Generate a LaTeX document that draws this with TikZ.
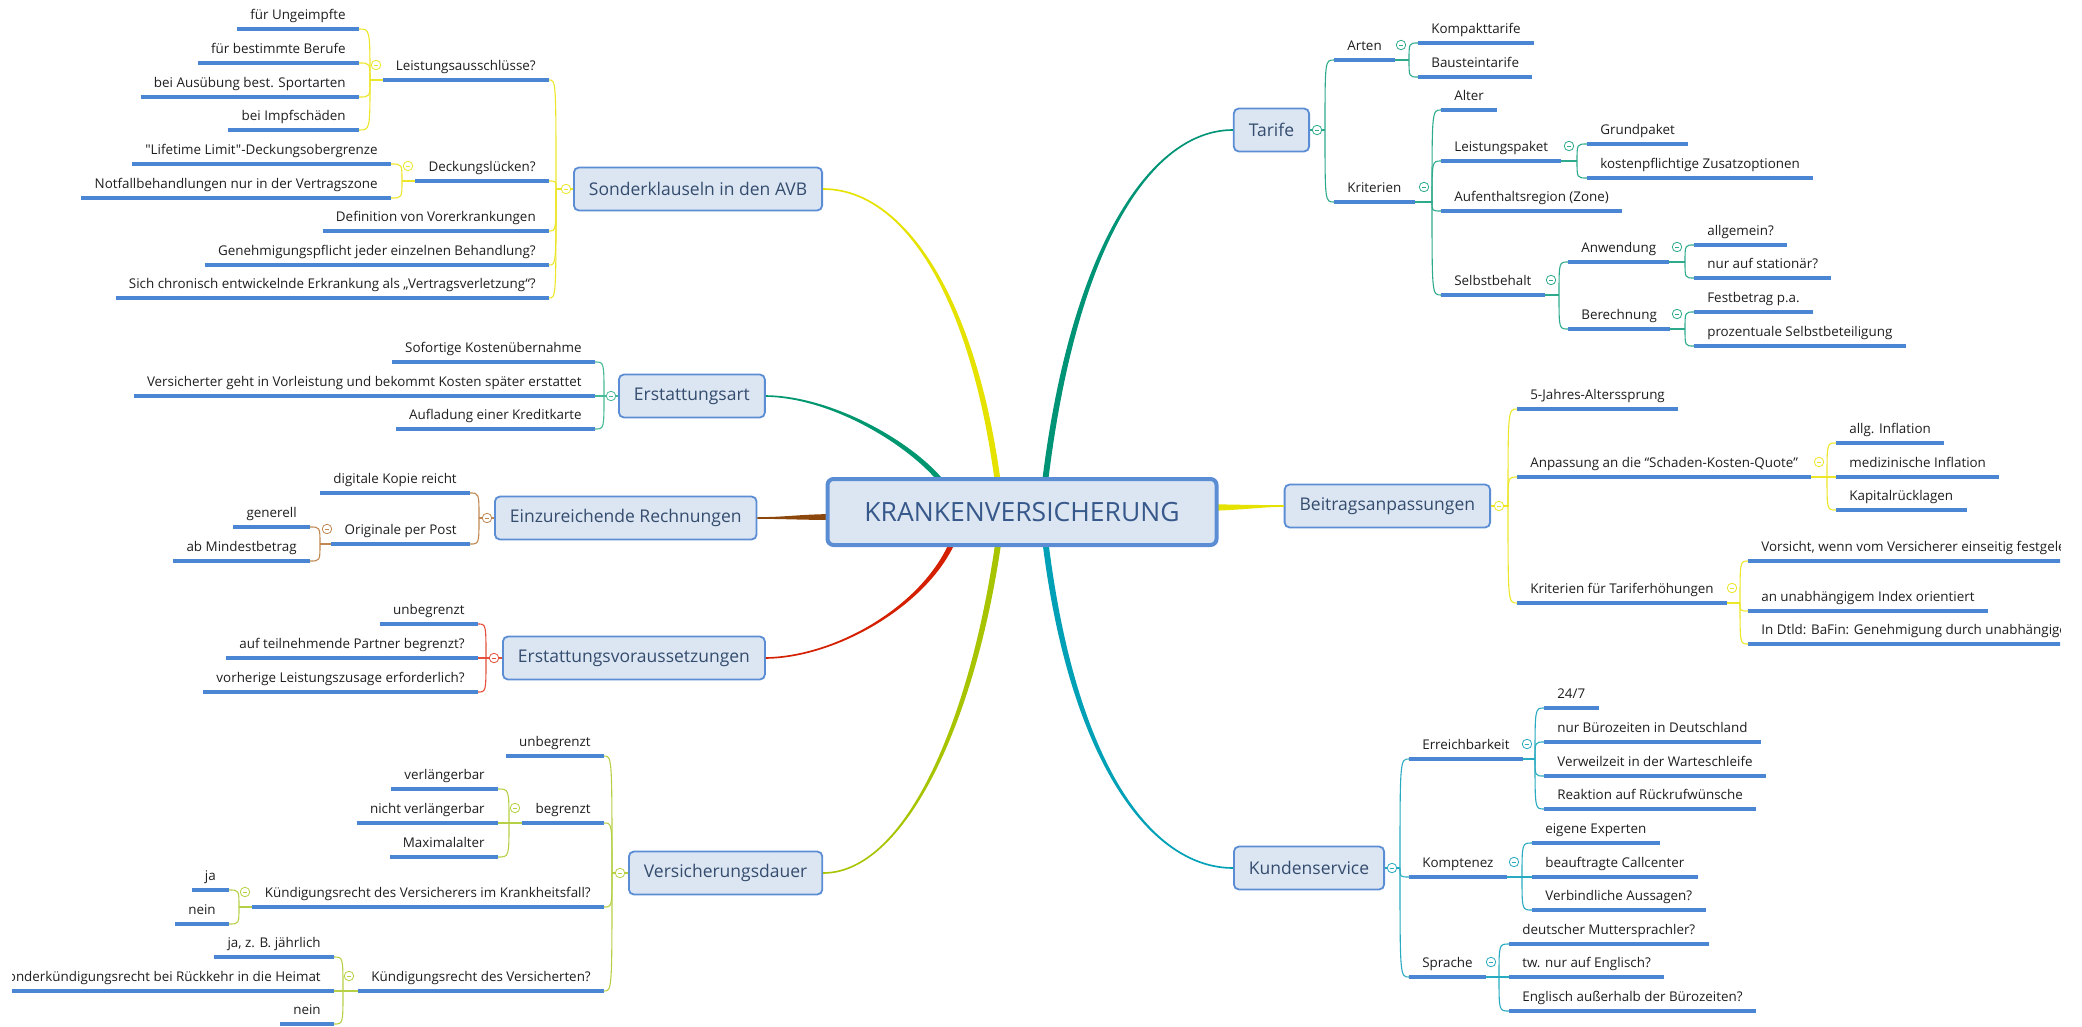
\documentclass[tikz,border=0pt]{standalone}
\usepackage{fontspec}
\setmainfont{Open Sans}[Ligatures=TeXOff]
\usetikzlibrary{positioning}
\usetikzlibrary{calc}

\definecolor{boxfill}{RGB}{220,230,242}
\definecolor{boxline}{RGB}{91,141,212}
\definecolor{boxtext}{RGB}{52,76,110}
\definecolor{roottext}{RGB}{55,88,138}
\definecolor{ulblue}{RGB}{74,134,212}
\definecolor{leaftext}{RGB}{30,30,30}
\definecolor{cyel}{RGB}{230,226,0}
\definecolor{cyelthin}{RGB}{236,230,40}
\definecolor{cgreen}{RGB}{0,150,112}
\definecolor{cgreenthin}{RGB}{70,186,150}
\definecolor{cbrown}{RGB}{140,72,12}
\definecolor{cbrownthin}{RGB}{192,135,80}
\definecolor{cred}{RGB}{212,32,0}
\definecolor{credthin}{RGB}{228,80,60}
\definecolor{colive}{RGB}{168,196,0}
\definecolor{colivethin}{RGB}{182,208,70}
\definecolor{cteal}{RGB}{0,148,118}
\definecolor{ctealthin}{RGB}{45,170,140}
\definecolor{ccyan}{RGB}{0,160,182}
\definecolor{ccyanthin}{RGB}{40,170,192}

\begin{document}
\begin{tikzpicture}[x=1pt,y=-1pt,semithick,
    fork/.style={to path={.. controls (\tikztostart |- \tikztotarget) .. (\tikztotarget)}},
    mk/.style={circle,draw=#1,fill=white,line width=0.8pt,minimum size=9.5pt,inner sep=0pt,
      path picture={\draw[#1,line width=0.8pt] ([xshift=-2.3pt]path picture bounding box.center) -- ([xshift=2.3pt]path picture bounding box.center);}}]
    \tikzstyle{root}=[draw=boxline,line width=4pt,fill=boxfill,rounded corners=6pt,minimum width=389pt,minimum height=66pt,text=roottext,font=\fontsize{26.5}{30}\selectfont]
    \tikzstyle{topic}=[draw=boxline,line width=1.8pt,fill=boxfill,rounded corners=5pt,minimum height=43pt,inner xsep=15pt,text=boxtext,font=\fontsize{17.5}{21}\selectfont]
    \tikzstyle{leaf}=[font=\fontsize{13.4}{16}\selectfont,text=leaftext,inner xsep=13pt,inner ysep=5pt,text height=10pt,text depth=4pt,
      append after command={(\tikzlastnode.south west) edge[draw=ulblue,line width=3.4pt] (\tikzlastnode.south east)}]
    \tikzstyle{leafL}=[leaf,anchor=south east]
    \tikzstyle{leafR}=[leaf,anchor=south west]
    \tikzstyle{lyel}=[draw=cyelthin,line width=1.1pt,fork]
    \tikzstyle{lgreen}=[draw=cgreenthin,line width=1.1pt,fork]
    \tikzstyle{lbrown}=[draw=cbrownthin,line width=1.1pt,fork]
    \tikzstyle{lred}=[draw=credthin,line width=1.1pt,fork]
    \tikzstyle{lolive}=[draw=colivethin,line width=1.1pt,fork]
    \tikzstyle{lteal}=[draw=ctealthin,line width=1.1pt,fork]
    \tikzstyle{lcyan}=[draw=ccyanthin,line width=1.1pt,fork]

    \useasboundingbox (0,0) rectangle (2082,1027);
    \begin{scope}
    \clip (12,0) rectangle (2060,1027);

    % left side
    \node[topic,anchor=west] (SK) at (573,189) {Sonderklauseln in den AVB};
    \coordinate (sk) at (556,189);
    \node[leafL] (ls) at (549,80) {Leistungsausschlüsse?};
    \node[leafL] (dl) at (549,181) {Deckungslücken?};
    \node[leafL] (dv) at (549,231) {Definition von Vorerkrankungen};
    \node[leafL] (gp) at (549,265) {Genehmigungspflicht jeder einzelnen Behandlung?};
    \node[leafL] (ce) at (549,298) {Sich chronisch entwickelnde Erkrankung als „Vertragsverletzung“?};
    \coordinate (lss) at (370,80);
    \node[leafL] (ls1) at (359,29) {für Ungeimpfte};
    \node[leafL] (ls2) at (359,63) {für bestimmte Berufe};
    \node[leafL] (ls3) at (359,97) {bei Ausübung best. Sportarten};
    \node[leafL] (ls4) at (359,130) {bei Impfschäden};
    \coordinate (dls) at (402,181);
    \node[leafL] (dl1) at (391,164) {"Lifetime Limit"-Deckungsobergrenze};
    \node[leafL] (dl2) at (391,198) {Notfallbehandlungen nur in der Vertragszone};

    \node[topic,anchor=west] (EA) at (618,396) {Erstattungsart};
    \coordinate (ea) at (604,396);
    \node[leafL] (ea1) at (595,362) {Sofortige Kostenübernahme};
    \node[leafL] (ea2) at (595,396) {Versicherter geht in Vorleistung und bekommt Kosten später erstattet};
    \node[leafL] (ea3) at (595,429) {Aufladung einer Kreditkarte};

    \node[topic,anchor=west] (ER) at (494,518) {Einzureichende Rechnungen};
    \coordinate (er) at (479,518);
    \node[leafL] (er1) at (470,493) {digitale Kopie reicht};
    \node[leafL] (er2) at (470,544) {Originale per Post};
    \coordinate (ers) at (320,544);
    \node[leafL] (er21) at (310,527) {generell};
    \node[leafL] (er22) at (310,561) {ab Mindestbetrag};

    \node[topic,anchor=west] (EV) at (502,658) {Erstattungsvoraussetzungen};
    \coordinate (ev) at (486,658);
    \node[leafL] (ev1) at (478,624) {unbegrenzt};
    \node[leafL] (ev2) at (478,658) {auf teilnehmende Partner begrenzt?};
    \node[leafL] (ev3) at (478,692) {vorherige Leistungszusage erforderlich?};

    \node[topic,anchor=west] (VD) at (628,873) {Versicherungsdauer};
    \coordinate (vd) at (612,873);
    \node[leafL] (vd1) at (604,756) {unbegrenzt};
    \node[leafL] (vd2) at (604,823) {begrenzt};
    \node[leafL] (vd3) at (604,907) {Kündigungsrecht des Versicherers im Krankheitsfall?};
    \node[leafL] (vd4) at (604,991) {Kündigungsrecht des Versicherten?};
    \coordinate (vd2s) at (509,823);
    \node[leafL] (vd21) at (498,789) {verlängerbar};
    \node[leafL] (vd22) at (498,823) {nicht verlängerbar};
    \node[leafL] (vd23) at (498,857) {Maximalalter};
    \coordinate (vd3s) at (239,907);
    \node[leafL] (vd31) at (229,890) {ja};
    \node[leafL] (vd32) at (229,924) {nein};
    \coordinate (vd4s) at (343,991);
    \node[leafL] (vd41) at (334,957) {ja, z. B. jährlich};
    \node[leafL] (vd42) at (334,991) {Sonderkündigungsrecht bei Rückkehr in die Heimat};
    \node[leafL] (vd43) at (334,1024) {nein};

    % right side
    \node[topic,anchor=east] (TA) at (1310,130) {Tarife};
    \coordinate (ta) at (1325,130);
    \node[leafR] (ta1) at (1334,60) {Arten};
    \node[leafR] (ta2) at (1334,202) {Kriterien};
    \coordinate (ta1s) at (1409,60);
    \node[leafR] (ta11) at (1418,43) {Kompakttarife};
    \node[leafR] (ta12) at (1418,77) {Bausteintarife};
    \coordinate (ta2s) at (1432,202);
    \node[leafR] (ta21) at (1441,110) {Alter};
    \node[leafR] (ta22) at (1441,161) {Leistungspaket};
    \node[leafR] (ta23) at (1441,211) {Aufenthaltsregion (Zone)};
    \node[leafR] (ta24) at (1441,295) {Selbstbehalt};
    \coordinate (ta22s) at (1577,161);
    \node[leafR] (ta221) at (1587,144) {Grundpaket};
    \node[leafR] (ta222) at (1587,178) {kostenpflichtige Zusatzoptionen};
    \coordinate (ta24s) at (1559,295);
    \node[leafR] (ta241) at (1568,262) {Anwendung};
    \node[leafR] (ta242) at (1568,329) {Berechnung};
    \coordinate (ta241s) at (1685,262);
    \node[leafR] (ta2411) at (1694,245) {allgemein?};
    \node[leafR] (ta2412) at (1694,278) {nur auf stationär?};
    \coordinate (ta242s) at (1685,329);
    \node[leafR] (ta2421) at (1694,312) {Festbetrag p.a.};
    \node[leafR] (ta2422) at (1694,346) {prozentuale Selbstbeteiligung};

    \node[topic,anchor=east] (BA) at (1491,506) {Beitragsanpassungen};
    \coordinate (ba) at (1508,506);
    \node[leafR] (ba1) at (1517,409) {5-Jahres-Alterssprung};
    \node[leafR] (ba2) at (1517,477) {Anpassung an die “Schaden-Kosten-Quote”};
    \node[leafR] (ba3) at (1517,603) {Kriterien für Tariferhöhungen};
    \coordinate (ba2s) at (1827,477);
    \node[leafR] (ba21) at (1836,443) {allg. Inflation};
    \node[leafR] (ba22) at (1836,477) {medizinische Inflation};
    \node[leafR] (ba23) at (1836,510) {Kapitalrücklagen};
    \coordinate (ba3s) at (1740,603);
    \node[leafR] (ba31) at (1748,561) {Vorsicht, wenn vom Versicherer einseitig festgelegt};
    \node[leafR] (ba32) at (1748,611) {an unabhängigem Index orientiert};
    \node[leafR] (ba33) at (1748,644) {In Dtld: BaFin: Genehmigung durch unabhängigen Treuhänder};

    \node[topic,anchor=east] (KS) at (1385,868) {Kundenservice};
    \coordinate (ks) at (1400,868);
    \node[leafR] (ks1) at (1409,759) {Erreichbarkeit};
    \node[leafR] (ks2) at (1409,877) {Komptenez};
    \node[leafR] (ks3) at (1409,977) {Sprache};
    \coordinate (ks1s) at (1535,759);
    \node[leafR] (ks11) at (1544,708) {24/7};
    \node[leafR] (ks12) at (1544,742) {nur Bürozeiten in Deutschland};
    \node[leafR] (ks13) at (1544,776) {Verweilzeit in der Warteschleife};
    \node[leafR] (ks14) at (1544,809) {Reaktion auf Rückrufwünsche};
    \coordinate (ks2s) at (1522,877);
    \node[leafR] (ks21) at (1532,843) {eigene Experten};
    \node[leafR] (ks22) at (1532,877) {beauftragte Callcenter};
    \node[leafR] (ks23) at (1532,910) {Verbindliche Aussagen?};
    \coordinate (ks3s) at (1499,977);
    \node[leafR] (ks31) at (1509,944) {deutscher Muttersprachler?};
    \node[leafR] (ks32) at (1509,977) {tw. nur auf Englisch?};
    \node[leafR] (ks33) at (1509,1011) {Englisch außerhalb der Bürozeiten?};

    % main branches, thick at the root
    \fill[cyel] (997,500) .. controls (974,300) and (905,190) .. ($(SK.east)+(0,0.8)$) -- ($(SK.east)+(0,-0.8)$) .. controls (905,188) and (980,300) .. (1003,500) -- cycle;
    \fill[cgreen] (949,497) .. controls (927,457) and (840,398) .. ($(EA.east)+(0,0.8)$) -- ($(EA.east)+(0,-0.8)$) .. controls (840,396) and (933,453) .. (955,497) -- cycle;
    \fill[cbrown] (840,514) .. controls (800,514) and (790,517) .. ($(ER.east)+(0,-0.8)$) -- ($(ER.east)+(0,0.8)$) .. controls (790,519) and (800,520) .. (840,520) -- cycle;
    \fill[cred] (954,530) .. controls (932,600) and (840,656) .. ($(EV.east)+(0,-0.8)$) -- ($(EV.east)+(0,0.8)$) .. controls (840,658) and (938,600) .. (960,530) -- cycle;
    \fill[colive] (997,530) .. controls (972,720) and (905,872) .. ($(VD.east)+(0,-0.8)$) -- ($(VD.east)+(0,0.8)$) .. controls (905,874) and (978,720) .. (1003,530) -- cycle;
    \fill[cteal] (1040,500) .. controls (1067,250) and (1150,129) .. ($(TA.west)+(0,-0.8)$) -- ($(TA.west)+(0,0.8)$) .. controls (1150,131) and (1073,250) .. (1046,500) -- cycle;
    \fill[cyel] (1205,504) .. controls (1245,505) and (1260,505) .. ($(BA.west)+(0,-0.8)$) -- ($(BA.west)+(0,0.8)$) .. controls (1260,507) and (1245,510) .. (1205,511) -- cycle;
    \fill[ccyan] (1041,530) .. controls (1067,760) and (1150,869) .. ($(KS.west)+(0,0.8)$) -- ($(KS.west)+(0,-0.8)$) .. controls (1150,867) and (1073,760) .. (1047,530) -- cycle;

    \node[root] (KV) at (1022,512) {KRANKENVERSICHERUNG};

    % thin connectors
    \path[lyel] (sk) edge (SK.west) edge (ls.south east) edge (dl.south east) edge (dv.south east) edge (gp.south east) edge (ce.south east);
    \path[lyel] (lss) edge (ls.south west) edge (ls1.south east) edge (ls2.south east) edge (ls3.south east) edge (ls4.south east);
    \path[lyel] (dls) edge (dl.south west) edge (dl1.south east) edge (dl2.south east);
    \path[lgreen] (ea) edge (EA.west) edge (ea1.south east) edge (ea2.south east) edge (ea3.south east);
    \path[lbrown] (er) edge (ER.west) edge (er1.south east) edge (er2.south east);
    \path[lbrown] (ers) edge (er2.south west) edge (er21.south east) edge (er22.south east);
    \path[lred] (ev) edge (EV.west) edge (ev1.south east) edge (ev2.south east) edge (ev3.south east);
    \path[lolive] (vd) edge (VD.west) edge (vd1.south east) edge (vd2.south east) edge (vd3.south east) edge (vd4.south east);
    \path[lolive] (vd2s) edge (vd2.south west) edge (vd21.south east) edge (vd22.south east) edge (vd23.south east);
    \path[lolive] (vd3s) edge (vd3.south west) edge (vd31.south east) edge (vd32.south east);
    \path[lolive] (vd4s) edge (vd4.south west) edge (vd41.south east) edge (vd42.south east) edge (vd43.south east);
    \path[lteal] (ta) edge (TA.east) edge (ta1.south west) edge (ta2.south west);
    \path[lteal] (ta1s) edge (ta1.south east) edge (ta11.south west) edge (ta12.south west);
    \path[lteal] (ta2s) edge (ta2.south east) edge (ta21.south west) edge (ta22.south west) edge (ta23.south west) edge (ta24.south west);
    \path[lteal] (ta22s) edge (ta22.south east) edge (ta221.south west) edge (ta222.south west);
    \path[lteal] (ta24s) edge (ta24.south east) edge (ta241.south west) edge (ta242.south west);
    \path[lteal] (ta241s) edge (ta241.south east) edge (ta2411.south west) edge (ta2412.south west);
    \path[lteal] (ta242s) edge (ta242.south east) edge (ta2421.south west) edge (ta2422.south west);
    \path[lyel] (ba) edge (BA.east) edge (ba1.south west) edge (ba2.south west) edge (ba3.south west);
    \path[lyel] (ba2s) edge (ba2.south east) edge (ba21.south west) edge (ba22.south west) edge (ba23.south west);
    \path[lyel] (ba3s) edge (ba3.south east) edge (ba31.south west) edge (ba32.south west) edge (ba33.south west);
    \path[lcyan] (ks) edge (KS.east) edge (ks1.south west) edge (ks2.south west) edge (ks3.south west);
    \path[lcyan] (ks1s) edge (ks1.south east) edge (ks11.south west) edge (ks12.south west) edge (ks13.south west) edge (ks14.south west);
    \path[lcyan] (ks2s) edge (ks2.south east) edge (ks21.south west) edge (ks22.south west) edge (ks23.south west);
    \path[lcyan] (ks3s) edge (ks3.south east) edge (ks31.south west) edge (ks32.south west) edge (ks33.south west);

    % collapse markers
    \node[mk=cyelthin] (m-sk) at (566,189) {};
    \node[mk=cyelthin] (m-ls) at ($(lss)+(6,-15)$) {};
    \node[mk=cyelthin] (m-dl) at ($(dls)+(6,-15)$) {};
    \node[mk=cgreenthin] (m-ea) at (611,396) {};
    \node[mk=cbrownthin] (m-er) at (487,518) {};
    \node[mk=cbrownthin] (m-ers) at ($(ers)+(7,-15)$) {};
    \node[mk=credthin] (m-ev) at (494,658) {};
    \node[mk=colivethin] (m-vd) at (620,873) {};
    \node[mk=colivethin] (m-vd2) at ($(vd2s)+(6,-15)$) {};
    \node[mk=colivethin] (m-vd3) at ($(vd3s)+(6,-15)$) {};
    \node[mk=colivethin] (m-vd4) at ($(vd4s)+(6,-15)$) {};
    \node[mk=ctealthin] (m-ta) at (1317,130) {};
    \node[mk=ctealthin] (m-ta1) at ($(ta1s)+(-8,-15)$) {};
    \node[mk=ctealthin] (m-ta2) at ($(ta2s)+(-8,-15)$) {};
    \node[mk=ctealthin] (m-ta22) at ($(ta22s)+(-8,-15)$) {};
    \node[mk=ctealthin] (m-ta24) at ($(ta24s)+(-8,-15)$) {};
    \node[mk=ctealthin] (m-ta241) at ($(ta241s)+(-8,-15)$) {};
    \node[mk=ctealthin] (m-ta242) at ($(ta242s)+(-8,-15)$) {};
    \node[mk=cyelthin] (m-ba) at (1499,506) {};
    \node[mk=cyelthin] (m-ba2) at ($(ba2s)+(-8,-15)$) {};
    \node[mk=cyelthin] (m-ba3) at ($(ba3s)+(-8,-15)$) {};
    \node[mk=ccyanthin] (m-ks) at (1392,868) {};
    \node[mk=ccyanthin] (m-ks1) at ($(ks1s)+(-8,-15)$) {};
    \node[mk=ccyanthin] (m-ks2) at ($(ks2s)+(-8,-15)$) {};
    \node[mk=ccyanthin] (m-ks3) at ($(ks3s)+(-8,-15)$) {};
    \end{scope}
\end{tikzpicture}
\end{document}
